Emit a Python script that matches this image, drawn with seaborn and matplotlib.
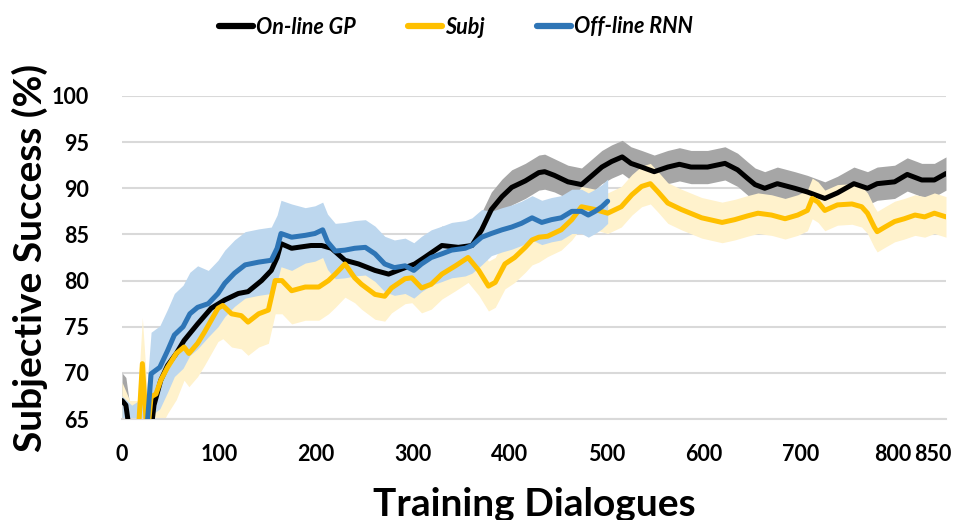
import numpy as np
import pandas as pd
import seaborn as sns
import matplotlib.pyplot as plt
from matplotlib.lines import Line2D
from matplotlib.transforms import ScaledTranslation

# On-line GP (black)
gp_x = [0, 4, 10, 20, 28, 33, 40, 47, 56, 64, 78, 92, 106, 120, 130, 144, 154, 160, 164, 175,
        195, 206, 216, 230, 244, 261, 275, 292, 302, 312, 330, 347, 361, 371, 381, 392, 402, 416, 430, 436,
        446, 460, 474, 484, 495, 505, 516, 525, 536, 549, 563, 575, 587, 604, 622, 635, 645, 653, 663, 676,
        694, 707, 725, 738, 755, 769, 779, 797, 810, 825, 838, 850]
gp_y = [67, 66.5, 62, 59, 62, 66.5, 69.2, 70.8, 72.1, 73.5, 75.3, 77, 77.9, 78.6, 78.8, 80, 81.1, 82.5, 84, 83.5,
        83.8, 83.8, 83.5, 82.2, 81.8, 81.1, 80.7, 81.4, 81.8, 82.5, 83.8, 83.6, 83.8, 85.5, 87.7, 89.1, 90.1, 90.8, 91.7, 91.8,
        91.4, 90.7, 90.4, 91.3, 92.3, 92.9, 93.4, 92.7, 92.3, 91.8, 92.3, 92.6, 92.3, 92.3, 92.7, 92, 91.1, 90.4, 90, 90.5,
        90, 89.6, 88.9, 89.5, 90.5, 90, 90.5, 90.7, 91.5, 90.9, 90.9, 91.6]
gp_err = [3.0] * 10 + [3.0] * 5 + [2.5] * 5 + [2.1] * 12 + [1.9] * 8 + [1.8] * 32

# Subj (yellow)
subj_x = [0, 8, 16, 21, 26, 30, 35, 40, 47, 56, 64, 69, 78, 85, 92, 99, 104, 113, 123, 130,
          141, 151, 158, 165, 175, 189, 203, 213, 220, 230, 240, 247, 261, 271, 278, 292, 299, 309, 319, 330,
          344, 357, 368, 378, 385, 395, 405, 416, 423, 430, 439, 453, 464, 474, 488, 501, 515, 526, 536, 545,
          553, 563, 577, 598, 619, 632, 645, 656, 670, 684, 697, 707, 712, 718, 725, 738, 753, 763, 769, 776,
          779, 787, 797, 807, 818, 828, 838, 850]
subj_y = [64, 62, 62, 71, 63, 67.4, 67.7, 69.2, 70.6, 72.1, 72.8, 72.1, 73.2, 74.4, 75.7, 77, 77.3, 76.4, 76.2, 75.5,
          76.4, 76.8, 80, 80, 78.9, 79.3, 79.3, 80, 80.7, 81.8, 80.3, 79.6, 78.5, 78.3, 79.2, 80.2, 80.3, 79.2, 79.6, 80.7,
          81.6, 82.5, 81.1, 79.4, 79.8, 81.8, 82.5, 83.6, 84.4, 84.7, 84.8, 85.5, 86.6, 88, 87.7, 87.3, 88, 89.3, 90.2, 90.5,
          89.6, 88.4, 87.7, 86.8, 86.3, 86.6, 87, 87.3, 87.1, 86.7, 87.1, 87.6, 88.9, 88.5, 87.6, 88.2, 88.3, 88, 87.3, 85.8,
          85.3, 85.8, 86.4, 86.7, 87.1, 86.9, 87.3, 86.9]
subj_err = [5.0] * 10 + [3.6] * 20 + [2.7] * 20 + [2.2] * 38

# Off-line RNN (blue)
rnn_x = [0, 10, 25, 30, 39, 47, 54, 63, 70, 78, 89, 99, 106, 116, 127, 141, 154, 160, 164, 175,
         189, 199, 207, 212, 220, 230, 240, 251, 261, 271, 281, 292, 301, 309, 319, 330, 340, 354, 361, 371,
         381, 392, 402, 412, 423, 433, 443, 453, 464, 474, 481, 488, 495, 501]
rnn_y = [63, 62, 63, 69.9, 70.6, 72.4, 74.1, 75, 76.4, 77.1, 77.5, 78.6, 79.7, 80.8, 81.7, 82, 82.2, 83.5, 85.1, 84.7,
         84.9, 85.1, 85.5, 84.2, 83.2, 83.3, 83.5, 83.6, 82.9, 81.8, 81.4, 81.6, 81.1, 81.8, 82.5, 82.9, 83.3, 83.5, 83.8, 84.7,
         85.1, 85.5, 85.8, 86.2, 86.8, 86.3, 86.6, 86.8, 87.5, 87.5, 87.1, 87.5, 88, 88.6]
rnn_err = [4.5] * 10 + [3.6] * 10 + [3.0] * 20 + [2.4] * 14

names = ["On-line GP", "Subj", "Off-line RNN"]
line_colors = ["#000000", "#FFC000", "#2E75B6"]
band_colors = ["#A6A6A6", "#FFF2CC", "#BDD7EE"]
x_ticks = [0, 100, 200, 300, 400, 500, 600, 700, 800, 850]
y_ticks = [65, 70, 75, 80, 85, 90, 95, 100]

sns.set_theme(style="white")
plt.rcParams["font.family"] = ["Lato", "DejaVu Sans"]
plt.rcParams["text.color"] = "black"

series = [(gp_x, gp_y, gp_err), (subj_x, subj_y, subj_err), (rnn_x, rnn_y, rnn_err)]
df = pd.concat([pd.DataFrame({"dialogues": sx, "success": sy, "series": n})
                for (sx, sy, _), n in zip(series, names)], ignore_index=True)

fig = plt.figure(figsize=(9.67, 5.2), dpi=100)
ax = fig.add_axes([122 / 967, 1 - 419 / 520, 824 / 967, 323 / 520])

# error bands first, then the lines on top
for (sx, sy, se), c in zip(series, band_colors):
    sx, sy, se = np.array(sx), np.array(sy), np.array(se)
    ax.fill_between(sx, sy - se, sy + se, color=c, lw=0, zorder=1)

sns.lineplot(data=df, x="dialogues", y="success", hue="series", hue_order=names,
             palette=line_colors, linewidth=3.6, sort=False, errorbar=None,
             legend=False, ax=ax, zorder=3)

ax.set_xlim(0, 850)
ax.set_ylim(65, 100)
ax.set_xticks(x_ticks)
ax.set_yticks(y_ticks)
ax.tick_params(length=0, labelsize=15.5, colors="#000000")
ax.tick_params(axis="y", pad=24)
ax.tick_params(axis="x", pad=18)
for lab in ax.get_xticklabels() + ax.get_yticklabels():
    lab.set_fontweight("bold")
# squeeze the last two x labels together as in the original
xl = ax.get_xticklabels()
xl[-2].set_transform(xl[-2].get_transform() + ScaledTranslation(-0.05, 0, fig.dpi_scale_trans))
xl[-1].set_transform(xl[-1].get_transform() + ScaledTranslation(-0.13, 0, fig.dpi_scale_trans))

ax.set_axisbelow(True)
ax.yaxis.grid(True, color="#D9D9D9", lw=1.5)
ax.xaxis.grid(False)
for s in ["top", "right", "left"]:
    ax.spines[s].set_visible(False)
ax.spines["bottom"].set_color("#D9D9D9")
ax.spines["bottom"].set_linewidth(1.5)
ax.set_xlabel("")
ax.set_ylabel("")

fig.text(30 / 967, 1 - 258 / 520, "Subjective Success (%)", rotation=90, ha="center", va="center",
         fontsize=28, fontweight="bold", color="black")
fig.text(534 / 967, 1 - 516 / 520, "Training Dialogues", ha="center", va="baseline",
         fontsize=28, fontweight="bold", color="black")

handles = [Line2D([], [], color=c, lw=4.5, solid_capstyle="round") for c in line_colors]
fig.legend(handles, names, loc="center", bbox_to_anchor=(456 / 967, 1 - 27 / 520), ncol=3,
           frameon=False, handlelength=1.6, handletextpad=0.15, columnspacing=2.4,
           prop={"size": 15.5, "weight": "bold", "style": "italic"}, labelcolor="black")

fig.savefig("out.png", dpi=100)
